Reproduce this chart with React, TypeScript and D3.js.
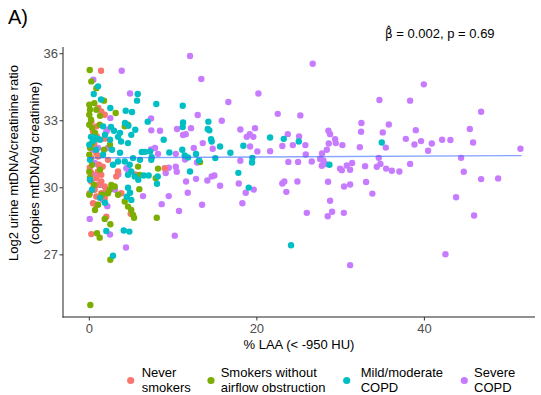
import React from "react";
import * as d3 from "d3";

type Pt = [number, number];

const groupNames = ["Never smokers", "Smokers without airflow obstruction", "Mild/moderate COPD", "Severe COPD"];
const legendLines: [string, string][] = [
  ["Never", "smokers"],
  ["Smokers without", "airflow obstruction"],
  ["Mild/moderate", "COPD"],
  ["Severe", "COPD"],
];
const groupColors = ["#F8766D", "#7CAE00", "#00BFC4", "#C77CFF"];

const xTicks = [0, 20, 40];
const yTicks = [27, 30, 33, 36];

const fitX = [0, 51.6];
const fitY = [31.34, 31.44];

const neverSmokers: Pt[] = [
  [1.4, 35.24], [1.07, 33.57], [1.43, 33.42], [1.84, 33.27], [0.24, 32.97], [0.84, 32.75], [0.44, 32.52],
  [0.84, 31.55], [0.24, 31.33], [1.04, 31.4], [0.05, 30.9], [0.24, 30.66], [1.04, 30.73], [1.43, 30.58],
  [0.84, 30.43], [0.24, 30.28], [1.43, 30.28], [1.04, 30.13], [1.84, 30.06], [0.64, 29.91], [0.05, 29.76],
  [1.43, 29.76], [0.84, 29.61], [1.84, 29.54], [0.44, 29.31], [0.84, 29.24], [3.22, 30.51], [3.43, 30.73],
  [3.82, 29.76], [2.03, 28.71], [0.24, 27.93], [5.49, 30.6], [4.94, 28.84], [9.0, 30.88], [1.8, 32.2],
  [0.6, 32.0], [2.23, 31.25], [0.56, 31.93], [1.16, 31.03], [0.3, 31.8], [1.6, 30.95], [0.5, 30.0],
  [2.0, 29.9], [0.9, 32.3],
];

const smokersNoObstruction: Pt[] = [
  [0.05, 35.27], [0.24, 34.76], [0.84, 34.46], [1.76, 33.9], [0.6, 33.79], [0.0, 33.72], [0.08, 33.49],
  [0.0, 33.27], [0.2, 33.05], [0.0, 32.82], [0.32, 32.69], [0.84, 33.49], [1.24, 32.82], [3.15, 33.35],
  [4.23, 32.75], [4.62, 32.82], [1.28, 33.22], [0.68, 32.46], [0.08, 31.79], [0.0, 31.48], [0.32, 31.03],
  [0.0, 30.72], [0.08, 30.45], [0.56, 30.13], [0.0, 29.69], [0.32, 32.0], [1.76, 31.7], [2.47, 31.93],
  [5.82, 30.95], [6.02, 30.58], [5.97, 29.94], [2.63, 30.13], [3.03, 30.06], [2.44, 29.91], [2.23, 29.76],
  [3.43, 29.69], [4.23, 29.39], [4.62, 29.16], [5.01, 29.01], [5.22, 28.79], [5.34, 28.66], [1.84, 28.61],
  [2.51, 28.37], [0.92, 27.97], [1.24, 27.77], [2.51, 26.78], [0.12, 24.76], [13.22, 31.15], [8.2, 30.86],
  [7.93, 30.43], [8.05, 28.66], [1.04, 29.24], [0.68, 29.01], [1.52, 29.69], [1.28, 30.81],
];

const mildModerateCOPD: Pt[] = [
  [16.84, 31.57], [18.39, 31.88], [21.58, 32.25], [23.21, 32.19], [25.0, 32.07], [34.91, 32.03], [19.46, 31.34],
  [19.43, 31.13], [17.79, 30.67], [19.03, 30.01], [28.66, 31.03], [24.08, 27.43], [15.61, 31.85],
  [5.78, 34.2], [5.7, 33.9], [8.0, 33.75], [11.15, 33.67], [6.97, 32.96], [11.19, 32.92], [11.15, 32.72],
  [14.21, 32.96], [14.14, 32.63], [14.33, 32.57], [8.88, 32.15], [9.55, 31.58], [11.1, 31.7], [11.39, 31.45],
  [11.78, 31.36], [12.74, 31.51], [13.1, 31.22], [14.53, 32.18], [14.61, 32.07], [15.04, 31.33], [12.02, 30.73],
  [8.08, 30.18], [7.45, 31.37], [7.25, 31.63], [7.4, 31.25], [6.26, 31.6], [6.65, 31.61], [6.5, 30.55],
  [7.09, 30.55], [8.17, 30.51], [5.85, 30.36], [4.78, 28.04],
  [0.53, 34.2], [1.04, 34.54], [1.4, 33.95], [2.51, 33.57], [4.35, 33.45], [5.1, 33.39], [2.59, 32.72],
  [4.26, 32.9], [4.66, 32.78], [5.49, 32.6], [1.64, 32.75], [2.95, 32.55], [3.67, 32.46], [0.2, 32.28],
  [0.68, 32.24], [1.04, 32.19], [0.44, 32.1], [1.28, 32.15], [0.0, 31.93], [1.87, 32.37], [2.47, 32.15],
  [3.43, 32.28], [3.79, 32.07], [4.62, 32.0], [5.01, 32.37], [2.83, 31.03], [3.43, 31.18], [4.23, 31.18],
  [4.82, 31.03], [5.22, 31.33], [5.01, 30.73], [4.62, 30.58], [5.42, 30.51], [0.08, 30.36], [0.32, 29.91],
  [4.62, 30.0], [4.86, 29.78], [4.47, 29.6], [5.01, 29.46], [1.87, 29.33], [1.28, 29.55], [2.03, 28.07],
  [4.11, 28.09], [2.83, 26.96], [0.8, 31.7], [1.64, 31.48], [0.08, 31.25], [2.71, 31.7], [3.67, 31.57],
  [6.05, 31.25],
];

const severeCOPD: Pt[] = [
  [26.67, 35.55], [39.93, 34.63], [20.18, 34.22], [16.6, 33.84], [34.63, 33.93], [38.29, 33.9], [46.77, 33.4],
  [22.49, 33.31], [25.19, 33.24], [15.81, 33.0], [32.48, 32.9], [35.75, 32.83], [18.03, 32.61], [19.78, 32.67],
  [45.42, 32.63], [38.97, 32.58], [28.54, 32.55], [32.44, 32.51], [35.03, 32.48], [19.15, 32.4], [18.79, 32.28],
  [19.58, 32.28], [23.69, 32.4], [25.04, 32.3], [28.74, 32.4], [29.34, 32.18], [29.42, 32.0], [37.78, 32.19],
  [39.6, 32.09], [42.11, 32.15], [43.1, 32.14], [40.88, 31.98], [45.81, 32.03], [38.81, 31.94], [51.46, 31.75],
  [23.04, 31.87], [24.29, 31.91], [25.79, 31.91], [28.58, 31.98], [30.21, 31.91], [19.19, 31.85], [35.39, 31.8],
  [32.29, 31.82], [28.35, 31.7], [40.44, 31.66], [21.58, 31.64], [20.06, 31.63], [27.78, 31.54], [25.84, 31.49],
  [44.38, 31.34], [34.55, 31.34], [18.03, 31.21], [23.76, 31.16], [24.92, 31.16], [26.55, 31.18], [27.55, 31.29],
  [27.94, 31.22], [27.75, 30.99], [28.26, 31.06], [31.37, 31.11], [30.73, 31.0], [38.29, 31.07], [34.75, 31.07],
  [34.32, 30.94], [32.92, 30.97], [29.93, 30.86], [30.14, 30.79], [31.13, 30.81], [35.43, 30.86], [36.11, 30.76],
  [37.01, 30.73], [44.7, 30.72], [46.77, 30.39], [48.8, 30.42], [15.61, 30.09], [17.84, 30.19], [23.04, 30.19],
  [23.28, 30.28], [24.84, 30.28], [28.5, 30.27], [30.41, 30.06], [31.13, 30.15], [33.04, 30.26], [19.63, 29.92],
  [18.67, 29.78], [23.52, 29.82], [33.79, 29.74], [43.78, 29.58], [18.27, 29.31], [28.74, 29.42], [25.96, 28.88],
  [28.98, 28.93], [28.46, 28.73], [30.38, 28.88], [45.93, 28.76], [42.51, 27.03], [31.13, 26.54],
  [12.02, 35.9], [13.37, 34.87], [3.87, 35.24], [4.86, 34.22], [12.94, 33.26], [7.37, 33.1], [7.4, 32.57],
  [8.44, 32.55], [10.47, 32.63], [11.19, 32.36], [11.51, 32.4], [12.14, 32.67], [13.54, 32.0], [14.73, 31.75],
  [12.47, 31.78], [7.37, 31.72], [7.84, 31.78], [8.2, 31.52], [10.32, 31.52], [11.43, 31.27], [14.61, 30.51],
  [14.93, 30.55], [14.09, 30.33], [11.55, 30.28], [12.86, 31.13], [9.12, 30.66], [9.48, 30.9], [10.44, 30.72],
  [10.32, 30.94], [12.74, 30.4], [11.75, 29.78], [9.48, 29.63], [6.41, 29.63], [8.64, 29.27], [13.46, 29.24],
  [10.71, 28.96], [10.2, 27.86], [4.38, 27.33], [0.05, 28.61], [2.47, 27.91], [2.15, 29.18], [3.46, 30.6],
  [4.66, 30.76],
  [0.48, 34.84], [2.51, 33.12], [2.15, 32.6], [2.03, 32.52], [0.44, 31.7], [1.04, 31.78], [2.23, 31.78],
  [1.04, 31.03], [0.64, 31.11], [4.42, 30.88], [0.8, 30.58], [1.28, 30.13], [3.07, 29.91], [1.64, 29.46],
];

const groups: Pt[][] = [neverSmokers, smokersNoObstruction, mildModerateCOPD, severeCOPD];
const drawOrder = [3, 0, 1, 2];

const W = 541;
const H = 395;
const FONT = "'Liberation Sans', Arial, Helvetica, sans-serif";

export default function App() {
  const x = d3.scaleLinear().domain([-3.14, 53.2]).range([63, 535]);
  const y = d3.scaleLinear().domain([24.22, 36.3]).range([317, 47]);
  const line = d3
    .line<number>()
    .x((_, i) => x(fitX[i]))
    .y((_, i) => y(fitY[i]));

  const [x0, x1] = x.range();
  const [y0, y1] = y.range();

  const legendDotX = [130.7, 211, 346.7, 464.3];
  const legendTextX = [141.7, 220.7, 360.7, 474];

  return (
    <svg
      width={W}
      height={H}
      style={{ position: "absolute", left: 0, top: 0, display: "block", background: "#fff" }}
      fontFamily={FONT}
    >
      <rect x={0} y={0} width={W} height={H} fill="#fff" />
      {/* tag */}
      <text x={8} y={24} fontSize={20} fill="#000">A)</text>

      {/* points */}
      {drawOrder.map((g) =>
        groups[g].map((d, i) => (
          <circle key={`${g}-${i}`} cx={x(d[0])} cy={y(d[1])} r={3.2} fill={groupColors[g]} />
        ))
      )}

      {/* fit line */}
      <path d={line(fitX) || ""} fill="none" stroke="#3366FF" strokeOpacity={0.6} strokeWidth={1.3} />

      {/* axes */}
      <line x1={x0} x2={x0} y1={y1} y2={y0 + 0.5} stroke="#222" strokeWidth={1} />
      <line x1={x0 - 0.5} x2={x1} y1={y0} y2={y0} stroke="#222" strokeWidth={1} />
      {yTicks.map((t) => (
        <g key={`yt${t}`}>
          <line x1={x0 - 3.5} x2={x0} y1={y(t)} y2={y(t)} stroke="#333" strokeWidth={1} />
          <text x={x0 - 5} y={y(t)} dy="0.35em" textAnchor="end" fontSize={13} fill="#4D4D4D">{t}</text>
        </g>
      ))}
      {xTicks.map((t) => (
        <g key={`xt${t}`}>
          <line x1={x(t)} x2={x(t)} y1={y0} y2={y0 + 3.5} stroke="#333" strokeWidth={1} />
          <text x={x(t)} y={333} textAnchor="middle" fontSize={13} fill="#4D4D4D">{t}</text>
        </g>
      ))}

      {/* axis titles */}
      <text x={(x0 + x1) / 2} y={349} textAnchor="middle" fontSize={13} fill="#000">% LAA (&lt; -950 HU)</text>
      <g transform={`translate(18,163) rotate(-90)`}>
        <text x={0} y={0} textAnchor="middle" fontSize={13} fill="#000">Log2 urine mtDNA/creatinine ratio</text>
        <text x={0} y={21} textAnchor="middle" fontSize={13} fill="#000">(copies mtDNA/g creatinine)</text>
      </g>

      {/* annotation */}
      <text x={385} y={38} fontSize={13} fill="#000">
        <tspan fontFamily="'DejaVu Sans'" fontSize={12}>{"\u03B2\u0302"}</tspan>
        <tspan>{" = 0.002, p = 0.69"}</tspan>
      </text>

      {/* legend */}
      {groupNames.map((name, i) => (
        <g key={name}>
          <circle cx={legendDotX[i]} cy={380.5} r={3.6} fill={groupColors[i]} />
          <text x={legendTextX[i]} y={377} fontSize={13} fill="#000">{legendLines[i][0]}</text>
          <text x={legendTextX[i]} y={392} fontSize={13} fill="#000">{legendLines[i][1]}</text>
        </g>
      ))}
    </svg>
  );
}
